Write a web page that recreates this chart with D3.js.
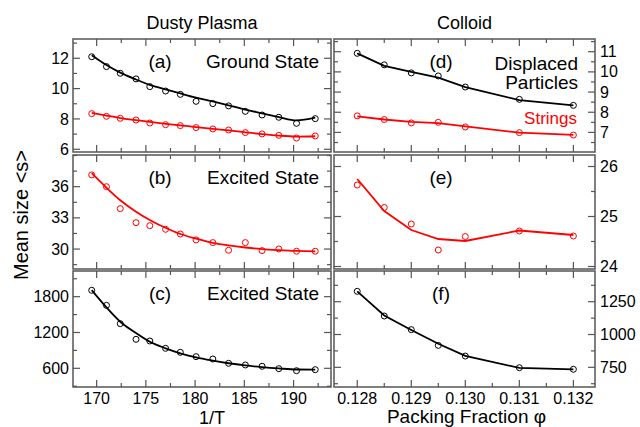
<!DOCTYPE html>
<html lang="en">
  <head>
    <meta charset="UTF-8" />
    <title>Mean size of strings</title>
    <script src="https://cdn.jsdelivr.net/npm/d3@7"></script>
    <style>
      body { margin: 0; background: #fff; }
      text { font-family: 'Liberation Sans', Arial, sans-serif; }
    </style>
  </head>
  <body>
    <svg width="640" height="427"></svg>

    <script>
      // dusty plasma: 1/T
      const invT = [169.5, 171.0, 172.4, 174.0, 175.4, 177.0, 178.5, 180.1, 181.8, 183.4, 185.1, 186.8, 188.5, 190.3, 192.2]
      // (a) ground state
      const groundDisp = [12.1, 11.45, 11.01, 10.64, 10.13, 9.84, 9.62, 9.16, 9.01, 8.86, 8.5, 8.26, 8.11, 7.71, 8.02]
      const groundDispFit = [12.2, 11.55, 11.05, 10.6, 10.25, 9.95, 9.68, 9.4, 9.15, 8.9, 8.62, 8.37, 8.12, 7.9, 8.08]
      const groundStr = [8.35, 8.17, 8.04, 7.93, 7.73, 7.62, 7.56, 7.43, 7.34, 7.27, 7.1, 7.01, 6.92, 6.74, 6.88]
      const groundStrFit = [8.4, 8.22, 8.06, 7.92, 7.8, 7.68, 7.58, 7.46, 7.35, 7.24, 7.12, 7.0, 6.9, 6.84, 6.86]
      // (b) excited state, strings
      const excitedStr = [37.13, 36.0, 33.89, 32.54, 32.25, 31.9, 31.45, 30.88, 30.62, 29.88, 30.62, 29.85, 30.01, 29.79, 29.79]
      const excitedStrFit = [37.3, 35.9, 34.7, 33.6, 32.8, 32.05, 31.45, 31.0, 30.6, 30.35, 30.15, 30.0, 29.9, 29.82, 29.78]
      // (c) excited state, displaced particles
      const excitedDisp = [1907, 1655, 1348, 1086, 1058, 935, 868, 795, 756, 684, 656, 634, 594, 560, 577]
      const excitedDispFit = [1910, 1620, 1380, 1190, 1045, 935, 852, 785, 730, 685, 648, 620, 598, 580, 578]

      // colloid: packing fraction
      const phi = [0.128, 0.1285, 0.129, 0.1295, 0.13, 0.131, 0.132]
      const colDisp = [10.92, 10.35, 9.95, 9.8, 9.25, 8.64, 8.34]
      const colDispFit = [10.92, 10.3, 10.0, 9.72, 9.25, 8.6, 8.34]
      const colStr = [7.82, 7.64, 7.47, 7.5, 7.27, 6.99, 6.87]
      const colStrFit = [7.8, 7.64, 7.52, 7.46, 7.3, 6.99, 6.88]
      const colExcStr = [25.63, 25.18, 24.85, 24.33, 24.6, 24.71, 24.61]
      const colExcStrFit = [25.75, 25.11, 24.73, 24.55, 24.51, 24.72, 24.63]
      const colExcDisp = [1329, 1141, 1037, 917, 836, 747, 735]
      const colExcDispFit = [1329, 1145, 1035, 930, 838, 745, 735]

      const svg = d3.select('svg')
      const left = { x0: 73, x1: 331 }
      const right = { x0: 334, x1: 595 }
      const rows = [
        { y0: 39, y1: 152 },
        { y0: 155, y1: 269 },
        { y0: 271, y1: 387 },
      ]
      const frameColor = '#555'

      const xT = d3.scaleLinear().domain([167.6, 193.8]).range([left.x0, left.x1])
      const xPhi = d3.scaleLinear().domain([0.12757, 0.1324]).range([right.x0, right.x1])

      const panels = [
        {
          col: left, row: rows[0], x: xT, xs: invT, yDom: [5.82, 13.27], major: [6, 8, 10, 12], minor: 1,
          series: [
            { pts: groundDisp, fit: groundDispFit, color: '#000' },
            { pts: groundStr, fit: groundStrFit, color: '#ff0000' },
          ],
          tag: '(a)', note: ['Ground State'],
        },
        {
          col: left, row: rows[1], x: xT, xs: invT, yDom: [28.08, 39.05], major: [30, 33, 36], minor: 1.5,
          series: [{ pts: excitedStr, fit: excitedStrFit, color: '#ff0000' }],
          tag: '(b)', note: ['Excited State'],
        },
        {
          col: left, row: rows[2], x: xT, xs: invT, yDom: [287, 2230], major: [600, 1200, 1800], minor: 300,
          series: [{ pts: excitedDisp, fit: excitedDispFit, color: '#000' }],
          tag: '(c)', note: ['Excited State'],
        },
        {
          col: right, row: rows[0], x: xPhi, xs: phi, yDom: [6.03, 11.63], major: [7, 8, 9, 10, 11], minor: 0.5,
          series: [
            { pts: colDisp, fit: colDispFit, color: '#000' },
            { pts: colStr, fit: colStrFit, color: '#ff0000' },
          ],
          tag: '(d)', linear: true,
        },
        {
          col: right, row: rows[1], x: xPhi, xs: phi, yDom: [23.95, 26.23], major: [24, 25, 26], minor: 0.5,
          series: [{ pts: colExcStr, fit: colExcStrFit, color: '#ff0000' }],
          tag: '(e)', linear: true,
        },
        {
          col: right, row: rows[2], x: xPhi, xs: phi, yDom: [600, 1484], major: [750, 1000, 1250], minor: 125,
          series: [{ pts: colExcDisp, fit: colExcDispFit, color: '#000' }],
          tag: '(f)', linear: true,
        },
      ]

      function range(lo, hi, step) {
        const out = []
        const start = Math.ceil(lo / step - 1e-9)
        for (let k = start; k * step <= hi + 1e-9; k++) out.push(+(k * step).toFixed(6))
        return out
      }

      panels.forEach((p, i) => {
        const g = svg.append('g')
        const y = d3.scaleLinear().domain(p.yDom).range([p.row.y1, p.row.y0])
        const isLeft = p.col === left
        const xMajor = isLeft ? [170, 175, 180, 185, 190] : [0.128, 0.129, 0.13, 0.131, 0.132]
        const xMinorStep = isLeft ? 2.5 : 0.0005
        const xTicks = range(p.x.domain()[0], p.x.domain()[1], xMinorStep)
        const yTicks = range(p.yDom[0], p.yDom[1], p.minor)

        // tick marks on all four sides, pointing inward
        const tk = g.append('g').attr('stroke', frameColor).attr('stroke-width', 1.2)
        xTicks.forEach((v) => {
          const big = xMajor.some((m) => Math.abs(m - v) < 1e-7)
          const len = big ? 7 : 4
          const px = p.x(v)
          tk.append('line').attr('x1', px).attr('x2', px).attr('y1', p.row.y1).attr('y2', p.row.y1 - len)
          tk.append('line').attr('x1', px).attr('x2', px).attr('y1', p.row.y0).attr('y2', p.row.y0 + len)
        })
        yTicks.forEach((v) => {
          const big = p.major.some((m) => Math.abs(m - v) < 1e-7)
          const len = big ? 7 : 4
          const py = y(v)
          tk.append('line').attr('x1', p.col.x0).attr('x2', p.col.x0 + len).attr('y1', py).attr('y2', py)
          tk.append('line').attr('x1', p.col.x1).attr('x2', p.col.x1 - len).attr('y1', py).attr('y2', py)
        })

        g.append('rect')
          .attr('x', p.col.x0).attr('y', p.row.y0)
          .attr('width', p.col.x1 - p.col.x0).attr('height', p.row.y1 - p.row.y0)
          .attr('fill', 'none').attr('stroke', frameColor).attr('stroke-width', 1.5)

        // y tick labels
        g.selectAll('.ylab')
          .data(p.major)
          .enter()
          .append('text')
          .attr('x', isLeft ? p.col.x0 - 4 : p.col.x1 + 5)
          .attr('y', (d) => y(d))
          .attr('dy', '0.35em')
          .attr('text-anchor', isLeft ? 'end' : 'start')
          .style('font-size', '16px')
          .text((d) => d)

        // x tick labels on bottom row
        if (p.row === rows[2]) {
          g.selectAll('.xlab')
            .data(xMajor)
            .enter()
            .append('text')
            .attr('x', (d) => p.x(d))
            .attr('y', 404)
            .attr('text-anchor', 'middle')
            .style('font-size', '16px')
            .text((d) => (isLeft ? d : d.toFixed(3)))
        }

        const curve = p.linear ? d3.curveLinear : d3.curveMonotoneX
        p.series.forEach((s) => {
          const line = d3.line().x((d, j) => p.x(p.xs[j])).y((d) => y(d)).curve(curve)
          g.append('path').attr('d', line(s.fit)).attr('fill', 'none')
            .attr('stroke', s.color).attr('stroke-width', 1.8)
          g.selectAll(null)
            .data(s.pts)
            .enter()
            .append('circle')
            .attr('cx', (d, j) => p.x(p.xs[j]))
            .attr('cy', (d) => y(d))
            .attr('r', 3)
            .attr('fill', 'none')
            .attr('stroke', s.color)
            .attr('stroke-width', 1)
        })

        // panel letter and note
        g.append('text')
          .attr('x', isLeft ? 160 : 441)
          .attr('y', p.row.y0 + 29)
          .attr('text-anchor', 'middle')
          .style('font-size', '19px')
          .text(p.tag)
        if (p.note) {
          g.append('text')
            .attr('x', p.col.x1 - 12)
            .attr('y', p.row.y0 + 29)
            .attr('text-anchor', 'end')
            .style('font-size', '19px')
            .text(p.note[0])
        }
      })

      // legend-like labels in (d)
      svg.append('text').attr('x', 578).attr('y', 70).attr('text-anchor', 'end')
        .style('font-size', '19px').text('Displaced')
      svg.append('text').attr('x', 578).attr('y', 89).attr('text-anchor', 'end')
        .style('font-size', '19px').text('Particles')
      svg.append('text').attr('x', 577).attr('y', 124).attr('text-anchor', 'end')
        .style('font-size', '17px').attr('fill', '#ff0000').text('Strings')

      // column titles
      svg.append('text').attr('x', (left.x0 + left.x1) / 2).attr('y', 29).attr('text-anchor', 'middle')
        .style('font-size', '18px').text('Dusty Plasma')
      svg.append('text').attr('x', (right.x0 + right.x1) / 2).attr('y', 29).attr('text-anchor', 'middle')
        .style('font-size', '18px').text('Colloid')

      // axis titles
      svg.append('text').attr('x', (left.x0 + left.x1) / 2 + 10).attr('y', 424).attr('text-anchor', 'middle')
        .style('font-size', '18px').text('1/T')
      svg.append('text').attr('x', (right.x0 + right.x1) / 2 + 2).attr('y', 423).attr('text-anchor', 'middle')
        .style('font-size', '19px').text('Packing Fraction φ')
      svg.append('text')
        .attr('transform', 'translate(28,215) rotate(-90)')
        .attr('text-anchor', 'middle')
        .style('font-size', '20px')
        .text('Mean size <s>')
    </script>
  </body>
</html>
